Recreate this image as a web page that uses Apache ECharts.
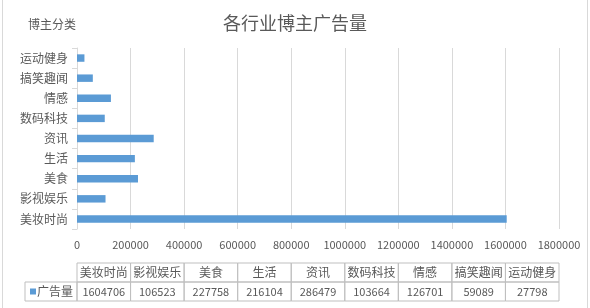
<!DOCTYPE html>
<html><head><meta charset="utf-8">
<script src="https://cdn.jsdelivr.net/npm/echarts@6/dist/echarts.min.js"></script>
<style>html,body{margin:0;padding:0;background:#fff}#c{width:590px;height:308px}</style>
</head><body><div id="c"></div>
<script>
var categories = ['美妆时尚','影视娱乐','美食','生活','资讯','数码科技','情感','搞笑趣闻','运动健身'];
var adCounts = [1604706,106523,227758,216104,286479,103664,126701,59089,27798];
var seriesName = '广告量';
var titleText = '各行业博主广告量';
var yAxisName = '博主分类';
var xTicks = [0,200000,400000,600000,800000,1000000,1200000,1400000,1600000,1800000];

var FONT = '"Microsoft YaHei","Noto Sans CJK SC",sans-serif';
var W = 590, H = 308;
var G = {left: 77, right: 31, top: 48, bottom: 79};
var plotW = W - G.left - G.right;
var colW = plotW / categories.length;
var rowTop = 263, rowH = 19;
var lineC = '#bfbfbf', textC = '#595959', barC = '#5b9bd5';

var graphics = [];
for (var i = 0; i < categories.length; i++) {
  var x0 = G.left + i * colW;
  graphics.push({type:'rect', shape:{x:x0, y:rowTop, width:colW, height:rowH}, style:{fill:'none', stroke:lineC, lineWidth:1}, silent:true});
  graphics.push({type:'rect', shape:{x:x0, y:rowTop+rowH, width:colW, height:rowH}, style:{fill:'none', stroke:lineC, lineWidth:1}, silent:true});
  graphics.push({type:'text', x:x0 + colW/2, y:rowTop + rowH/2, style:{text:categories[i], fill:textC, font:'12px '+FONT, textAlign:'center', textVerticalAlign:'middle'}, silent:true});
  graphics.push({type:'text', x:x0 + colW/2, y:rowTop + rowH*1.5, style:{text:String(adCounts[i]), fill:textC, font:'11px '+FONT, textAlign:'center', textVerticalAlign:'middle'}, silent:true});
}
graphics.push({type:'rect', shape:{x:25, y:rowTop+rowH, width:G.left-25, height:rowH}, style:{fill:'none', stroke:lineC, lineWidth:1}, silent:true});
graphics.push({type:'rect', shape:{x:30, y:rowTop+rowH*1.5-3, width:6, height:6}, style:{fill:barC}, silent:true});
graphics.push({type:'text', x:37, y:rowTop+rowH*1.5, style:{text:seriesName, fill:textC, font:'12px '+FONT, textAlign:'left', textVerticalAlign:'middle'}, silent:true});
graphics.push({type:'text', x:28, y:24, style:{text:yAxisName, fill:textC, font:'12px '+FONT, textAlign:'left', textVerticalAlign:'middle'}, silent:true});
graphics.push({type:'line', shape:{x1:2.5, y1:0, x2:2.5, y2:H}, style:{stroke:'#d9d9d9', lineWidth:1}, silent:true});
graphics.push({type:'line', shape:{x1:587.5, y1:0, x2:587.5, y2:H}, style:{stroke:'#d9d9d9', lineWidth:1}, silent:true});

var chart = echarts.init(document.getElementById('c'), null, {renderer:'canvas'});
chart.setOption({
  animation: false,
  backgroundColor: '#fff',
  title: {text: titleText, left: 'center', top: 9, textStyle:{fontSize:18, fontWeight:'normal', color:textC, fontFamily:FONT}},
  grid: {left:G.left, right:G.right, top:G.top, bottom:G.bottom, containLabel:false},
  xAxis: {
    type:'value', min:xTicks[0], max:xTicks[xTicks.length-1], interval:xTicks[1]-xTicks[0],
    axisLine:{show:false}, axisTick:{show:false},
    splitLine:{show:true, lineStyle:{color:'#d9d9d9', width:1}},
    axisLabel:{color:textC, fontSize:11, fontFamily:FONT, margin:10, formatter:function(v){return String(v);}}
  },
  yAxis: {
    type:'category', data:categories,
    axisLine:{show:true, lineStyle:{color:'#d9d9d9'}},
    axisTick:{show:true, length:5, lineStyle:{color:'#d9d9d9'}},
    axisLabel:{color:textC, fontSize:12, fontFamily:FONT, margin:9}
  },
  series: [{
    name: seriesName, type:'bar', data:adCounts, barWidth:'37%',
    itemStyle:{color:barC}
  }],
  graphic: graphics
});
</script>
</body></html>
